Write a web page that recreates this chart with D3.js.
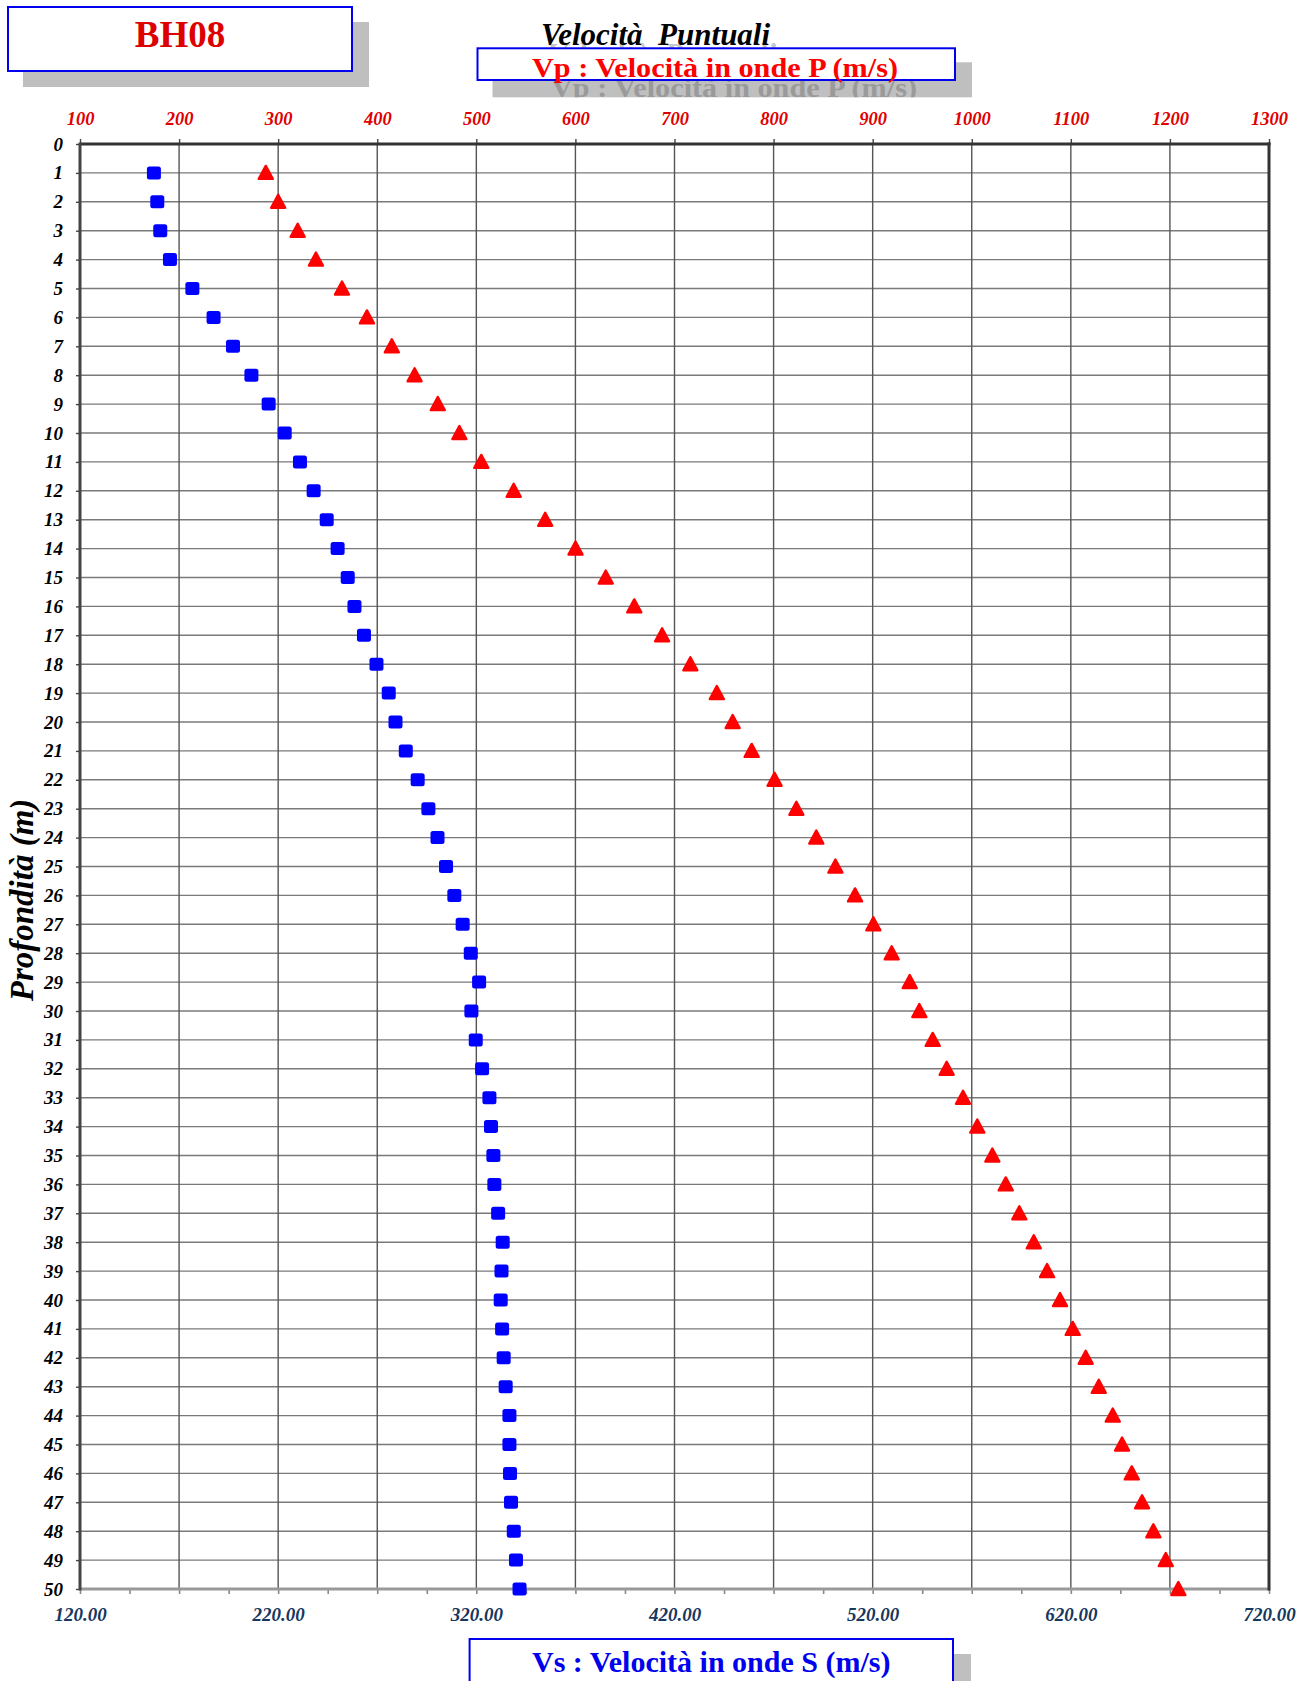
<!DOCTYPE html>
<html>
<head>
<meta charset="utf-8">
<script src="https://cdn.jsdelivr.net/npm/d3@7"></script>
<style>
  html, body { margin: 0; padding: 0; background: #fff; }
  svg { display: block; }
  text { white-space: pre; }
</style>
</head>
<body>
<svg id="chart" width="1312" height="1681"></svg>
<script>
// ---------------- DATA ----------------
const depths = d3.range(1, 51); // Profondità (m)

const vsValues = [157.3, 159.0, 160.5, 165.4, 176.7, 187.4, 197.2, 206.5, 215.2, 223.3,
                  231.0, 237.9, 244.5, 250.0, 255.1, 258.5, 263.3, 269.6, 275.8, 279.2,
                  284.4, 290.4, 295.8, 300.4, 304.7, 308.9, 313.1, 317.2, 321.4, 317.5,
                  319.7, 322.9, 326.6, 327.4, 328.6, 329.1, 331.0, 333.3, 332.7, 332.3,
                  333.0, 333.8, 334.8, 336.7, 336.7, 337.0, 337.5, 338.9, 340.0, 341.8];

const vpValues = [287.5, 300.0, 319.7, 338.1, 364.4, 389.6, 414.7, 437.7, 461.1, 482.9,
                  505.0, 537.7, 569.5, 600.1, 630.6, 659.4, 687.5, 716.0, 742.7, 758.7,
                  777.9, 801.0, 823.0, 843.1, 862.4, 882.2, 900.7, 919.2, 937.4, 947.1,
                  960.6, 974.7, 991.2, 1005.6, 1020.8, 1034.3, 1048.0, 1062.6, 1076.0, 1089.1,
                  1101.9, 1115.0, 1128.2, 1142.3, 1151.7, 1161.5, 1171.9, 1183.3, 1195.8, 1208.5];

const vpTicks = d3.range(100, 1301, 100);     // top axis labels
const vsTicks = d3.range(120, 721, 100);      // bottom axis labels
const vsMinorTicks = d3.range(120, 721, 25);  // bottom axis tick marks
const depthTicks = d3.range(0, 51, 1);

const boxTitle = "BH08";
const chartTitle = "Velocità  Puntuali";
const vpTitle = "Vp : Velocità in onde P (m/s)";
const vsTitle = "Vs : Velocità in onde S (m/s)";
const yTitle = "Profondità (m)";

// ---------------- LAYOUT ----------------
const L = 80, R = 1269, T = 144, B = 1589;
const svg = d3.select("#chart");

const y = d3.scaleLinear().domain([0, 50]).range([T, B]);
const xP = d3.scaleLinear().domain([100, 1300]).range([L, R]);
const xS = d3.scaleLinear().domain([120, 720]).range([L, R]);

const serif = "'Liberation Serif', 'Times New Roman', serif";

// ---------------- HEADER BOXES ----------------
// BH08 box
svg.append("rect").attr("x", 23).attr("y", 22).attr("width", 346).attr("height", 65).attr("fill", "#bfbfbf");
svg.append("rect").attr("x", 8).attr("y", 7).attr("width", 344).attr("height", 64)
  .attr("fill", "#fff").attr("stroke", "#0000ee").attr("stroke-width", 2);
svg.append("text").attr("x", 180).attr("y", 47).attr("text-anchor", "middle")
  .attr("font-family", serif).attr("font-weight", "bold").attr("font-size", 37)
  .attr("fill", "#dd0000").text(boxTitle);

// Chart title shadow + title
svg.append("text").attr("x", 547).attr("y", 65)
  .attr("font-family", serif).attr("font-weight", "bold").attr("font-style", "italic").attr("font-size", 31)
  .attr("fill", "#c8c8c8").text(chartTitle);
svg.append("text").attr("x", 541).attr("y", 45)
  .attr("font-family", serif).attr("font-weight", "bold").attr("font-style", "italic").attr("font-size", 31)
  .attr("fill", "#000").text(chartTitle);

// Vp box
const defs = svg.append("defs");
defs.append("clipPath").attr("id", "vpShadowClip")
  .append("rect").attr("x", 492.5).attr("y", 62.3).attr("width", 479.5).attr("height", 35);
svg.append("rect").attr("x", 492.5).attr("y", 62.3).attr("width", 479.5).attr("height", 35).attr("fill", "#bfbfbf");
svg.append("text").attr("x", 551).attr("y", 97).attr("clip-path", "url(#vpShadowClip)")
  .attr("font-family", serif).attr("font-weight", "bold").attr("font-size", 28)
  .attr("textLength", 366).attr("lengthAdjust", "spacingAndGlyphs")
  .attr("fill", "#9a9a9a").text(vpTitle);
svg.append("rect").attr("x", 477.5).attr("y", 48.3).attr("width", 477.5).attr("height", 31.7)
  .attr("fill", "#fff").attr("stroke", "#0000ee").attr("stroke-width", 2);
svg.append("text").attr("x", 532).attr("y", 77)
  .attr("font-family", serif).attr("font-weight", "bold").attr("font-size", 28)
  .attr("textLength", 366).attr("lengthAdjust", "spacingAndGlyphs")
  .attr("fill", "#ff0000").text(vpTitle);

// ---------------- GRID ----------------
const grid = svg.append("g");
grid.selectAll("line.h").data(depthTicks).join("line")
  .attr("x1", L).attr("x2", R).attr("y1", d => y(d)).attr("y2", d => y(d))
  .attr("stroke", "#7a7a7a").attr("stroke-width", 1.4);
grid.selectAll("line.v").data(vpTicks).join("line")
  .attr("x1", d => xP(d)).attr("x2", d => xP(d)).attr("y1", T).attr("y2", B)
  .attr("stroke", "#555").attr("stroke-width", 1.4);

// ---------------- AXES ----------------
const topAxis = svg.append("g").attr("transform", `translate(0,${T})`)
  .call(d3.axisTop(xP).tickValues(vpTicks).tickSize(5).tickPadding(14).tickFormat(d3.format("d")));
topAxis.select(".domain").remove();
topAxis.selectAll(".tick line").attr("stroke", "#444").attr("stroke-width", 1.4);
topAxis.selectAll(".tick text")
  .attr("font-family", serif).attr("font-style", "italic").attr("font-weight", "bold")
  .attr("font-size", 18.5).attr("fill", "#e00000");

const leftAxis = svg.append("g").attr("transform", `translate(${L},0)`)
  .call(d3.axisLeft(y).tickValues(depthTicks).tickSize(4).tickPadding(13).tickFormat(d3.format("d")));
leftAxis.select(".domain").remove();
leftAxis.selectAll(".tick line").attr("stroke", "#444").attr("stroke-width", 1.4);
leftAxis.selectAll(".tick text")
  .attr("font-family", serif).attr("font-style", "italic").attr("font-weight", "bold")
  .attr("font-size", 19).attr("fill", "#000");

const bottomAxis = svg.append("g").attr("transform", `translate(0,${B})`)
  .call(d3.axisBottom(xS).tickValues(vsMinorTicks).tickSize(5).tickPadding(14)
    .tickFormat(d => vsTicks.includes(d) ? d3.format(".2f")(d) : ""));
bottomAxis.select(".domain").remove();
bottomAxis.selectAll(".tick line").attr("stroke", "#888").attr("stroke-width", 1.6);
bottomAxis.selectAll(".tick text")
  .attr("font-family", serif).attr("font-style", "italic").attr("font-weight", "bold")
  .attr("font-size", 19).attr("fill", "#17375e");

// Frame
svg.append("line").attr("x1", L).attr("x2", R).attr("y1", B).attr("y2", B).attr("stroke", "#999").attr("stroke-width", 3);
svg.append("line").attr("x1", L).attr("x2", R + 1.5).attr("y1", T).attr("y2", T).attr("stroke", "#333").attr("stroke-width", 3);
svg.append("line").attr("x1", L).attr("x2", L).attr("y1", T - 1.5).attr("y2", B + 1.5).attr("stroke", "#444").attr("stroke-width", 3);
svg.append("line").attr("x1", R).attr("x2", R).attr("y1", T - 1.5).attr("y2", B + 1.5).attr("stroke", "#333").attr("stroke-width", 3);

// Y title
svg.append("text").attr("transform", "translate(33,900) rotate(-90)").attr("text-anchor", "middle")
  .attr("font-family", serif).attr("font-style", "italic").attr("font-weight", "bold")
  .attr("font-size", 33).attr("fill", "#000").text(yTitle);

// ---------------- MARKERS ----------------
const vs = depths.map((d, i) => ({ depth: d, v: vsValues[i] }));
const vp = depths.map((d, i) => ({ depth: d, v: vpValues[i] }));

svg.append("g").selectAll("rect").data(vs).join("rect")
  .attr("x", d => xS(d.v) - 7).attr("y", d => y(d.depth) - 6.5)
  .attr("width", 14).attr("height", 13).attr("rx", 2.5)
  .attr("fill", "#0000ff");

const tri = "M0,-7 L7,6 L-7,6 Z";
svg.append("g").selectAll("path").data(vp).join("path")
  .attr("d", tri)
  .attr("transform", d => `translate(${xP(d.v)},${y(d.depth)})`)
  .attr("fill", "#ff0000").attr("stroke", "#ff0000").attr("stroke-width", 2.4).attr("stroke-linejoin", "round");

// ---------------- Vs BOX ----------------
svg.append("rect").attr("x", 484).attr("y", 1654).attr("width", 487).attr("height", 40).attr("fill", "#bfbfbf");
svg.append("rect").attr("x", 469.6).attr("y", 1639).attr("width", 483.4).attr("height", 55)
  .attr("fill", "#fff").attr("stroke", "#0000ee").attr("stroke-width", 2);
svg.append("text").attr("x", 532).attr("y", 1672)
  .attr("font-family", serif).attr("font-weight", "bold").attr("font-size", 29)
  .attr("textLength", 358.5).attr("lengthAdjust", "spacingAndGlyphs")
  .attr("fill", "#0000ee").text(vsTitle);
</script>
</body>
</html>
